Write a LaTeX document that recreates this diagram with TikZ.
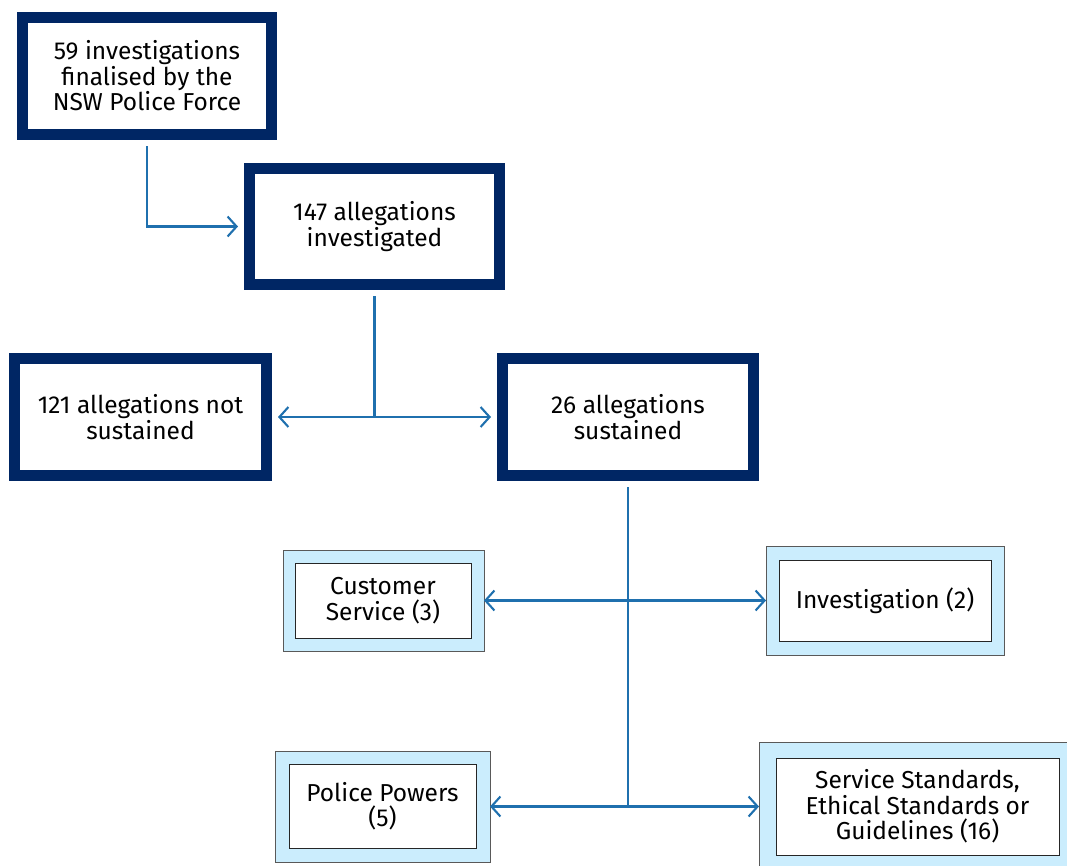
\documentclass[tikz,border=0pt]{standalone}
\usepackage{fontspec}
\setmainfont{Fira Sans}
\usetikzlibrary{arrows.meta}
\definecolor{navy}{HTML}{002664}
\definecolor{lblue}{HTML}{CBEDFD}
\definecolor{conn}{HTML}{1F70AE}
\tikzset{
  darkbox/.style={draw=navy, line width=11pt, fill=white, inner sep=0pt, outer sep=11.5pt, align=center},
  lightbox/.style={draw=black!65, line width=1pt, fill=lblue, inner sep=0pt, outer sep=0pt},
  innerbox/.style={draw=black!85, line width=1pt, fill=white, inner sep=0pt, align=center},
  link/.style={draw=conn, line width=2.1pt},
  tip/.style={-{Straight Barb[length=9pt,width=20pt,line width=2.1pt]}},
  bitip/.style={{Straight Barb[length=9pt,width=20pt,line width=2.1pt]}-{Straight Barb[length=9pt,width=20pt,line width=2.1pt]}}
}
\begin{document}
\begin{tikzpicture}[x=1pt,y=-1pt, font=\fontsize{24.5}{25.5}\selectfont]
\useasboundingbox (0,0) rectangle (1067,865);
% dark boxes
\node[darkbox, minimum width=249pt, minimum height=117pt] (b1) at (147,76) {59 investigations\\finalised by the\\NSW Police Force};
\node[darkbox, minimum width=250pt, minimum height=116pt] (b2) at (374.5,226.5) {147 allegations\\investigated};
\node[darkbox, minimum width=252pt, minimum height=117pt] (b3) at (140.5,417) {121 allegations not\\sustained};
\node[darkbox, minimum width=251pt, minimum height=117pt] (b4) at (628,417) {26 allegations\\sustained};
% light boxes
\node[lightbox, minimum width=201pt, minimum height=101pt] (cs) at (383.5,600.5) {};
\node[innerbox, minimum width=176pt, minimum height=75pt] (csi) at (383,600.5) {Customer\\Service (3)};
\node[lightbox, minimum width=238pt, minimum height=109pt] (inv) at (885,600.5) {};
\node[innerbox, minimum width=212pt, minimum height=81pt] (invi) at (885,600.5) {Investigation (2)};
\node[lightbox, minimum width=215pt, minimum height=111pt] (pp) at (382.5,806.5) {};
\node[innerbox, minimum width=187pt, minimum height=84pt] (ppi) at (382.5,806) {Police Powers\\(5)};
\node[lightbox, minimum width=318pt, minimum height=128pt] (ss) at (918,806.5) {};
\node[innerbox, minimum width=283pt, minimum height=97pt] (ssi) at (917.5,806.5) {Service Standards,\\Ethical Standards or\\Guidelines (16)};
% connectors
\draw[link, tip] (b1.south) |- (b2.west);
\draw[link] (b2.south) -- (b2.south |- b3.east);
\draw[link, bitip] (b3.east) -- (b4.west);
\draw[link] (b4.south) -- (b4.south |- pp.east);
\draw[link, bitip] (cs.east) -- (inv.west);
\draw[link, bitip] (pp.east) -- (ss.west);
\end{tikzpicture}
\end{document}
